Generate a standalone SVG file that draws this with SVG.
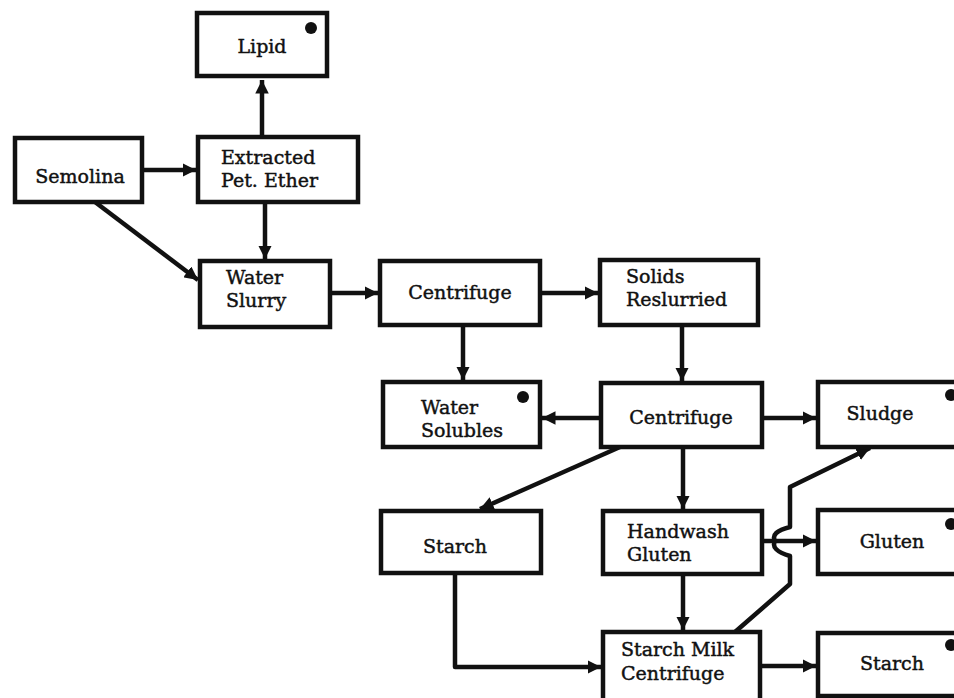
<svg xmlns="http://www.w3.org/2000/svg" width="954" height="698" viewBox="0 0 954 698">
<defs>
<style>
.box{fill:#fff;stroke:#111;stroke-width:4.5}
.t{font-family:"DejaVu Serif","Liberation Serif",serif;font-size:19px;fill:#111;stroke:#111;stroke-width:0.45}
.c{fill:none;stroke:#111;stroke-width:4.5;stroke-linejoin:round}
.dot{fill:#111}
</style>
<marker id="ah" viewBox="0 0 10 10" refX="10" refY="5" markerWidth="3" markerHeight="3" orient="auto" markerUnits="strokeWidth">
<path d="M0,0 L10,5 L0,10 z" fill="#111"/>
</marker>
</defs>
<rect width="954" height="698" fill="#fff"/>
<g id="connectors">
<path class="c" d="M142,170 H196" marker-end="url(#ah)"/>
<path class="c" d="M262,137 V80" marker-end="url(#ah)"/>
<path class="c" d="M265,202 V259" marker-end="url(#ah)"/>
<path class="c" d="M95,202 L198,280" marker-end="url(#ah)"/>
<path class="c" d="M330,293 H378" marker-end="url(#ah)"/>
<path class="c" d="M540,293 H598" marker-end="url(#ah)"/>
<path class="c" d="M463,325 V380" marker-end="url(#ah)"/>
<path class="c" d="M682,325 V381" marker-end="url(#ah)"/>
<path class="c" d="M600,418 H542" marker-end="url(#ah)"/>
<path class="c" d="M762,418 H816" marker-end="url(#ah)"/>
<path class="c" d="M620,447 L480,509" marker-end="url(#ah)"/>
<path class="c" d="M683,447 V509" marker-end="url(#ah)"/>
<path class="c" d="M762,541 H816" marker-end="url(#ah)"/>
<path class="c" d="M683,574 V630" marker-end="url(#ah)"/>
<path class="c" d="M455,573 V667 H601" marker-end="url(#ah)"/>
<path class="c" d="M760,666 H816" marker-end="url(#ah)"/>
<path class="c" d="M735,632 L790,584 V556 Q770,550 775,541 Q770,532 790,527 V487 L870,448" marker-end="url(#ah)"/>
</g>
<g id="lipid"><rect class="box" x="197" y="13" width="130" height="63"/><circle class="dot" cx="311" cy="28" r="6"/><text class="t" x="262" y="53" text-anchor="middle">Lipid</text></g>
<g id="semolina"><rect class="box" x="15" y="138" width="127" height="64"/><text class="t" x="80" y="183" text-anchor="middle">Semolina</text></g>
<g id="extracted"><rect class="box" x="198" y="137" width="160" height="65"/><text class="t" x="221" y="164">Extracted</text><text class="t" x="221" y="187">Pet. Ether</text></g>
<g id="water-slurry"><rect class="box" x="200" y="261" width="130" height="66"/><text class="t" x="226" y="284">Water</text><text class="t" x="226" y="307">Slurry</text></g>
<g id="centrifuge1"><rect class="box" x="380" y="261" width="160" height="64"/><text class="t" x="460" y="299" text-anchor="middle">Centrifuge</text></g>
<g id="solids"><rect class="box" x="600" y="260" width="158" height="65"/><text class="t" x="626" y="283">Solids</text><text class="t" x="626" y="306">Reslurried</text></g>
<g id="water-solubles"><rect class="box" x="383" y="382" width="157" height="65"/><circle class="dot" cx="523" cy="397" r="6"/><text class="t" x="421" y="414">Water</text><text class="t" x="421" y="437">Solubles</text></g>
<g id="centrifuge2"><rect class="box" x="601" y="383" width="161" height="64"/><text class="t" x="681" y="424" text-anchor="middle">Centrifuge</text></g>
<g id="sludge"><rect class="box" x="818" y="382" width="140" height="65"/><circle class="dot" cx="951" cy="395" r="6"/><text class="t" x="880" y="420" text-anchor="middle">Sludge</text></g>
<g id="starch1"><rect class="box" x="381" y="511" width="160" height="62"/><text class="t" x="455" y="553" text-anchor="middle">Starch</text></g>
<g id="handwash"><rect class="box" x="603" y="511" width="159" height="63"/><text class="t" x="627" y="538">Handwash</text><text class="t" x="627" y="561">Gluten</text></g>
<g id="gluten"><rect class="box" x="818" y="510" width="140" height="64"/><circle class="dot" cx="951" cy="524" r="6"/><text class="t" x="892" y="548" text-anchor="middle">Gluten</text></g>
<g id="starch-milk"><rect class="box" x="603" y="632" width="157" height="70"/><text class="t" x="621" y="656">Starch Milk</text><text class="t" x="621" y="680">Centrifuge</text></g>
<g id="starch2"><rect class="box" x="818" y="633" width="140" height="63"/><circle class="dot" cx="951" cy="645" r="6"/><text class="t" x="892" y="670" text-anchor="middle">Starch</text></g>
</svg>
